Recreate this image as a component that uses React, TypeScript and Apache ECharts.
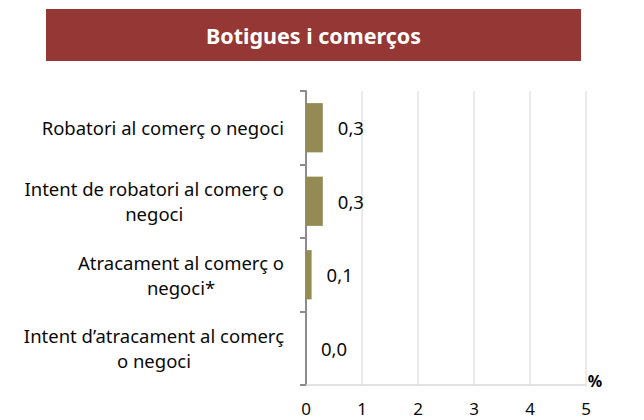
import React, { useEffect, useRef } from "react";
import * as echarts from "echarts";

const title = "Botigues i comerços";
const categories = [
  "Robatori al comerç o negoci",
  "Intent de robatori al comerç o\nnegoci",
  "Atracament al comerç o\nnegoci*",
  "Intent d’atracament al comerç\no negoci",
];
const values = [0.3, 0.3, 0.1, 0.0];
const xTicks = [0, 1, 2, 3, 4, 5];
const unit = "%";

const FONT = "'Noto Sans', sans-serif";

export default function App() {
  const ref = useRef<HTMLDivElement>(null);
  useEffect(() => {
    if (!ref.current) return;
    const chart = echarts.init(ref.current, null, { renderer: "svg" });
    chart.setOption({
      animation: false,
      textStyle: { fontFamily: FONT },
      graphic: [
        {
          type: "rect",
          shape: { x: 46, y: 9, width: 535, height: 52 },
          style: { fill: "#953735" },
        },
        {
          type: "text",
          x: 313.5,
          y: 35,
          style: {
            text: title,
            fill: "#ffffff",
            font: `bold 21.5px ${FONT}`,
            textAlign: "center",
            textVerticalAlign: "middle",
          },
        },
        {
          type: "text",
          x: 595,
          y: 381,
          style: {
            text: unit,
            fill: "#000000",
            font: `bold 16px ${FONT}`,
            textAlign: "center",
            textVerticalAlign: "middle",
          },
        },
      ],
      grid: { left: 306, right: 58, top: 91, bottom: 35, containLabel: false },
      xAxis: {
        type: "value",
        min: xTicks[0],
        max: xTicks[xTicks.length - 1],
        interval: 1,
        axisLine: { show: true, lineStyle: { color: "#d9d9d9", width: 1.5 } },
        axisTick: { show: false },
        splitLine: { show: true, lineStyle: { color: "#e3e3e3", width: 1.5 } },
        axisLabel: { color: "#0a0a0a", fontSize: 17, margin: 15, fontFamily: FONT },
      },
      yAxis: {
        type: "category",
        inverse: true,
        data: categories,
        axisLine: { show: true, lineStyle: { color: "#8c8c8c", width: 2 } },
        axisTick: { show: true, length: 6, lineStyle: { color: "#8c8c8c", width: 2 } },
        splitLine: { show: false },
        axisLabel: {
          margin: 22,
          align: "right",
          lineHeight: 25,
          formatter: (v: string) =>
            v
              .split("\n")
              .map((l) => `{c|${l}}`)
              .join("\n"),
          rich: {
            c: { align: "center", fontSize: 18.5, lineHeight: 25, color: "#0a0a0a", fontFamily: FONT },
          },
        },
      },
      series: [
        {
          type: "bar",
          data: values,
          barCategoryGap: "33%",
          itemStyle: { color: "#948a54" },
          label: {
            show: true,
            position: "right",
            distance: 15,
            fontSize: 18.5,
            color: "#0a0a0a",
            fontFamily: FONT,
            formatter: (p: any) => p.value.toFixed(1).replace(".", ","),
          },
        },
      ],
    });
    return () => chart.dispose();
  }, []);
  return <div ref={ref} style={{ width: 644, height: 420, position: "absolute", left: 0, top: 0 }} />;
}
